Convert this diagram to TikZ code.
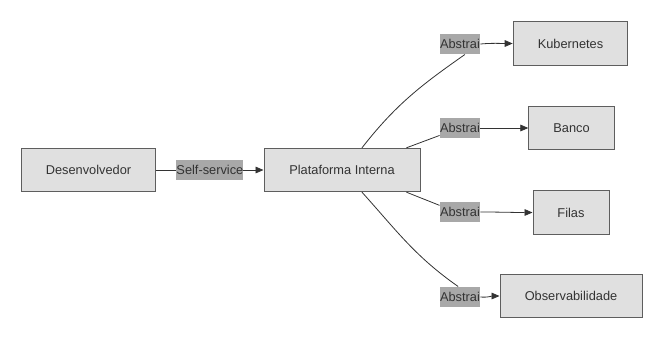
\documentclass[tikz,border=0pt]{standalone}
\usepackage{fontspec}
\setmainfont{Liberation Sans}
\usetikzlibrary{positioning,arrows.meta}
\definecolor{boxfill}{HTML}{E0E0E0}
\definecolor{boxline}{HTML}{5E5E5E}
\definecolor{lblfill}{HTML}{A8A8A8}
\definecolor{txt}{HTML}{333333}

\begin{document}
\begin{tikzpicture}[x=0.75pt,y=-0.75pt,line width=0.75pt,
    every node/.style={font=\fontsize{9.6}{11}\selectfont,text=txt},
    box/.style={draw=boxline,fill=boxfill,minimum height=32.5pt,inner sep=0pt},
    lbl/.style={fill=lblfill,inner xsep=0pt,inner ysep=0pt,minimum height=15pt},
    edge/.style={draw=txt,line width=0.6pt},
    arr/.style={edge,-{Triangle[length=6pt,width=5pt]}},
    ]
\useasboundingbox (0,0) rectangle (664,340);

% boxes
\node[box,minimum width=101pt] (dev) at (88.5,170) {Desenvolvedor};
\node[box,minimum width=117pt] (plat) at (342,170) {Plataforma Interna};
\node[box,minimum width=86pt] (kube) at (570.5,43.5) {Kubernetes};
\node[box,minimum width=64pt] (banco) at (571.5,128) {Banco};
\node[box,minimum width=57pt] (filas) at (571,212.5) {Filas};
\node[box,minimum width=106.5pt] (obs) at (571,296) {Observabilidade};

% labels
\node[lbl] (ab1) at (460,44) {Abstrai};
\node[lbl] (ab2) at (460,128) {Abstrai};
\node[lbl] (ab3) at (460,212) {Abstrai};
\node[lbl] (ab4) at (460,297) {Abstrai};

% edges
\draw[arr] (dev) -- node[lbl] {Self-service} (plat);

\draw[edge] (plat.48) to[out=52,in=215] (ab1.-65);
\draw[arr] (ab1.east) to[out=5,in=180] (kube.west);

\draw[edge] (plat.19) -- (ab2.-160);
\draw[arr] (ab2.east) -- (banco.west);

\draw[edge] (plat.-19) -- (ab3.162);
\draw[arr] (ab3.east) to[out=0,in=180] (filas.west);

\draw[edge] (plat.-48) to[out=-48,in=145] (ab4.100);
\draw[arr] (ab4.east) to[out=-5,in=180] (obs.west);
\end{tikzpicture}
\end{document}
